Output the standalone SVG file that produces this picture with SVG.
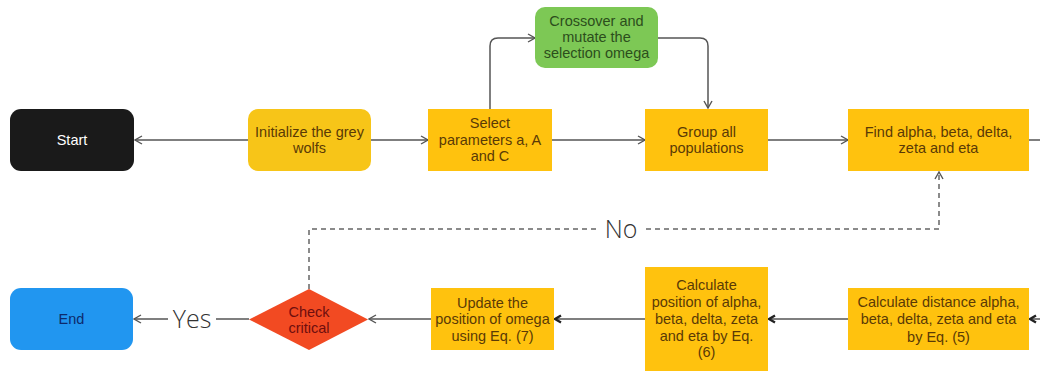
<svg xmlns="http://www.w3.org/2000/svg" width="1040" height="371" viewBox="0 0 1040 371">
<style>
.t{font-family:"Liberation Sans",Arial,sans-serif;font-size:14.5px;text-anchor:middle}
.y{fill:#FFC20E}
.ty{fill:#5A3A06}
.c{fill:none;stroke:#555;stroke-width:1.5}
.d{fill:none;stroke:#666;stroke-width:1.5;stroke-dasharray:5 4}
.lbl{font-family:"Open Sans","DejaVu Sans",sans-serif;font-weight:300;font-size:25px;fill:#333;text-anchor:middle}
</style>
<defs>
<marker id="open" viewBox="0 0 10 10" refX="9" refY="5" markerWidth="10" markerHeight="10" markerUnits="userSpaceOnUse" orient="auto">
<path d="M2,1 L9,5 L2,9" fill="none" stroke="#555" stroke-width="1.4"/>
</marker>
<marker id="bold" viewBox="0 0 10 10" refX="9" refY="5" markerWidth="10" markerHeight="10" markerUnits="userSpaceOnUse" orient="auto">
<path d="M3,1.5 L9,5 L3,8.5" fill="none" stroke="#222" stroke-width="2.4"/>
</marker>
</defs>
<rect width="1040" height="371" fill="#fff"/>
<g id="connectors">
<path class="c" d="M248,140 H135" marker-end="url(#open)"/>
<path class="c" d="M371,140 H428" marker-end="url(#open)"/>
<path class="c" d="M490,109 V46 Q490,38 498,38 H535" marker-end="url(#open)"/>
<path class="c" d="M552,140 H645" marker-end="url(#open)"/>
<path class="c" d="M658,38 H700 Q708,38 708,46 V108" marker-end="url(#open)"/>
<path class="c" d="M768,140 H848" marker-end="url(#open)"/>
<path class="c" d="M1029,140 H1040"/>
<path class="c" d="M1040,319 H1030" marker-end="url(#bold)"/>
<path class="c" d="M848,319 H769" marker-end="url(#bold)"/>
<path class="c" d="M645,319 H555" marker-end="url(#bold)"/>
<path class="c" d="M431,319 H369" marker-end="url(#open)"/>
<path class="c" d="M249,319 H216"/>
<path class="c" d="M168,319 H134" marker-end="url(#open)"/>
<path class="d" d="M309,289 V229 H597"/>
<path class="d" d="M646,229 H939 V172" marker-end="url(#open)"/>
<text class="lbl" x="621" y="238">No</text>
<text class="lbl" x="192" y="328">Yes</text>
</g>
<g id="start">
<rect x="10" y="109" width="124" height="62" rx="11" fill="#1A1A1A"/>
<text class="t" x="72" y="145" fill="#fff">Start</text>
</g>
<g id="init">
<rect x="248" y="109" width="123" height="62" rx="10" fill="#F7C518"/>
<text class="t ty" x="309.5" y="137">Initialize the grey</text>
<text class="t ty" x="309.5" y="153">wolfs</text>
</g>
<g id="select">
<rect class="y" x="428" y="109" width="124" height="62"/>
<text class="t ty" x="490" y="128">Select</text>
<text class="t ty" x="490" y="145">parameters a, A</text>
<text class="t ty" x="490" y="161">and C</text>
</g>
<g id="crossover">
<rect x="535" y="7" width="123" height="61" rx="10" fill="#7DC855"/>
<text class="t" x="596.5" y="26" fill="#2C4E1C">Crossover and</text>
<text class="t" x="596.5" y="42" fill="#2C4E1C">mutate the</text>
<text class="t" x="596.5" y="58" fill="#2C4E1C">selection omega</text>
</g>
<g id="group">
<rect class="y" x="645" y="109" width="123" height="62"/>
<text class="t ty" x="706.5" y="137">Group all</text>
<text class="t ty" x="706.5" y="153">populations</text>
</g>
<g id="find">
<rect class="y" x="848" y="109" width="181" height="62"/>
<text class="t ty" x="938.5" y="137">Find alpha, beta, delta,</text>
<text class="t ty" x="938.5" y="153">zeta and eta</text>
</g>
<g id="end">
<rect x="10" y="288" width="123" height="62" rx="11" fill="#2196F0"/>
<text class="t" x="71.5" y="324" fill="#0D2A6B">End</text>
</g>
<g id="check">
<polygon points="309,289 368,319.5 309,350 249,319.5" fill="#F24A22"/>
<text class="t" x="309" y="317" fill="#6E0E0E">Check</text>
<text class="t" x="309" y="333" fill="#6E0E0E">critical</text>
</g>
<g id="update">
<rect class="y" x="431" y="288" width="123" height="62"/>
<text class="t ty" x="492.5" y="308">Update the</text>
<text class="t ty" x="492.5" y="324">position of omega</text>
<text class="t ty" x="492.5" y="341">using Eq. (7)</text>
</g>
<g id="calcpos">
<rect class="y" x="645" y="267" width="123" height="104"/>
<text class="t ty" x="706.5" y="290">Calculate</text>
<text class="t ty" x="706.5" y="307">position of alpha,</text>
<text class="t ty" x="706.5" y="324">beta, delta, zeta</text>
<text class="t ty" x="706.5" y="341">and eta by Eq.</text>
<text class="t ty" x="706.5" y="357">(6)</text>
</g>
<g id="calcdist">
<rect class="y" x="848" y="288" width="181" height="62"/>
<text class="t ty" x="938.5" y="307">Calculate distance alpha,</text>
<text class="t ty" x="938.5" y="324">beta, delta, zeta and eta</text>
<text class="t ty" x="938.5" y="342">by Eq. (5)</text>
</g>
</svg>
